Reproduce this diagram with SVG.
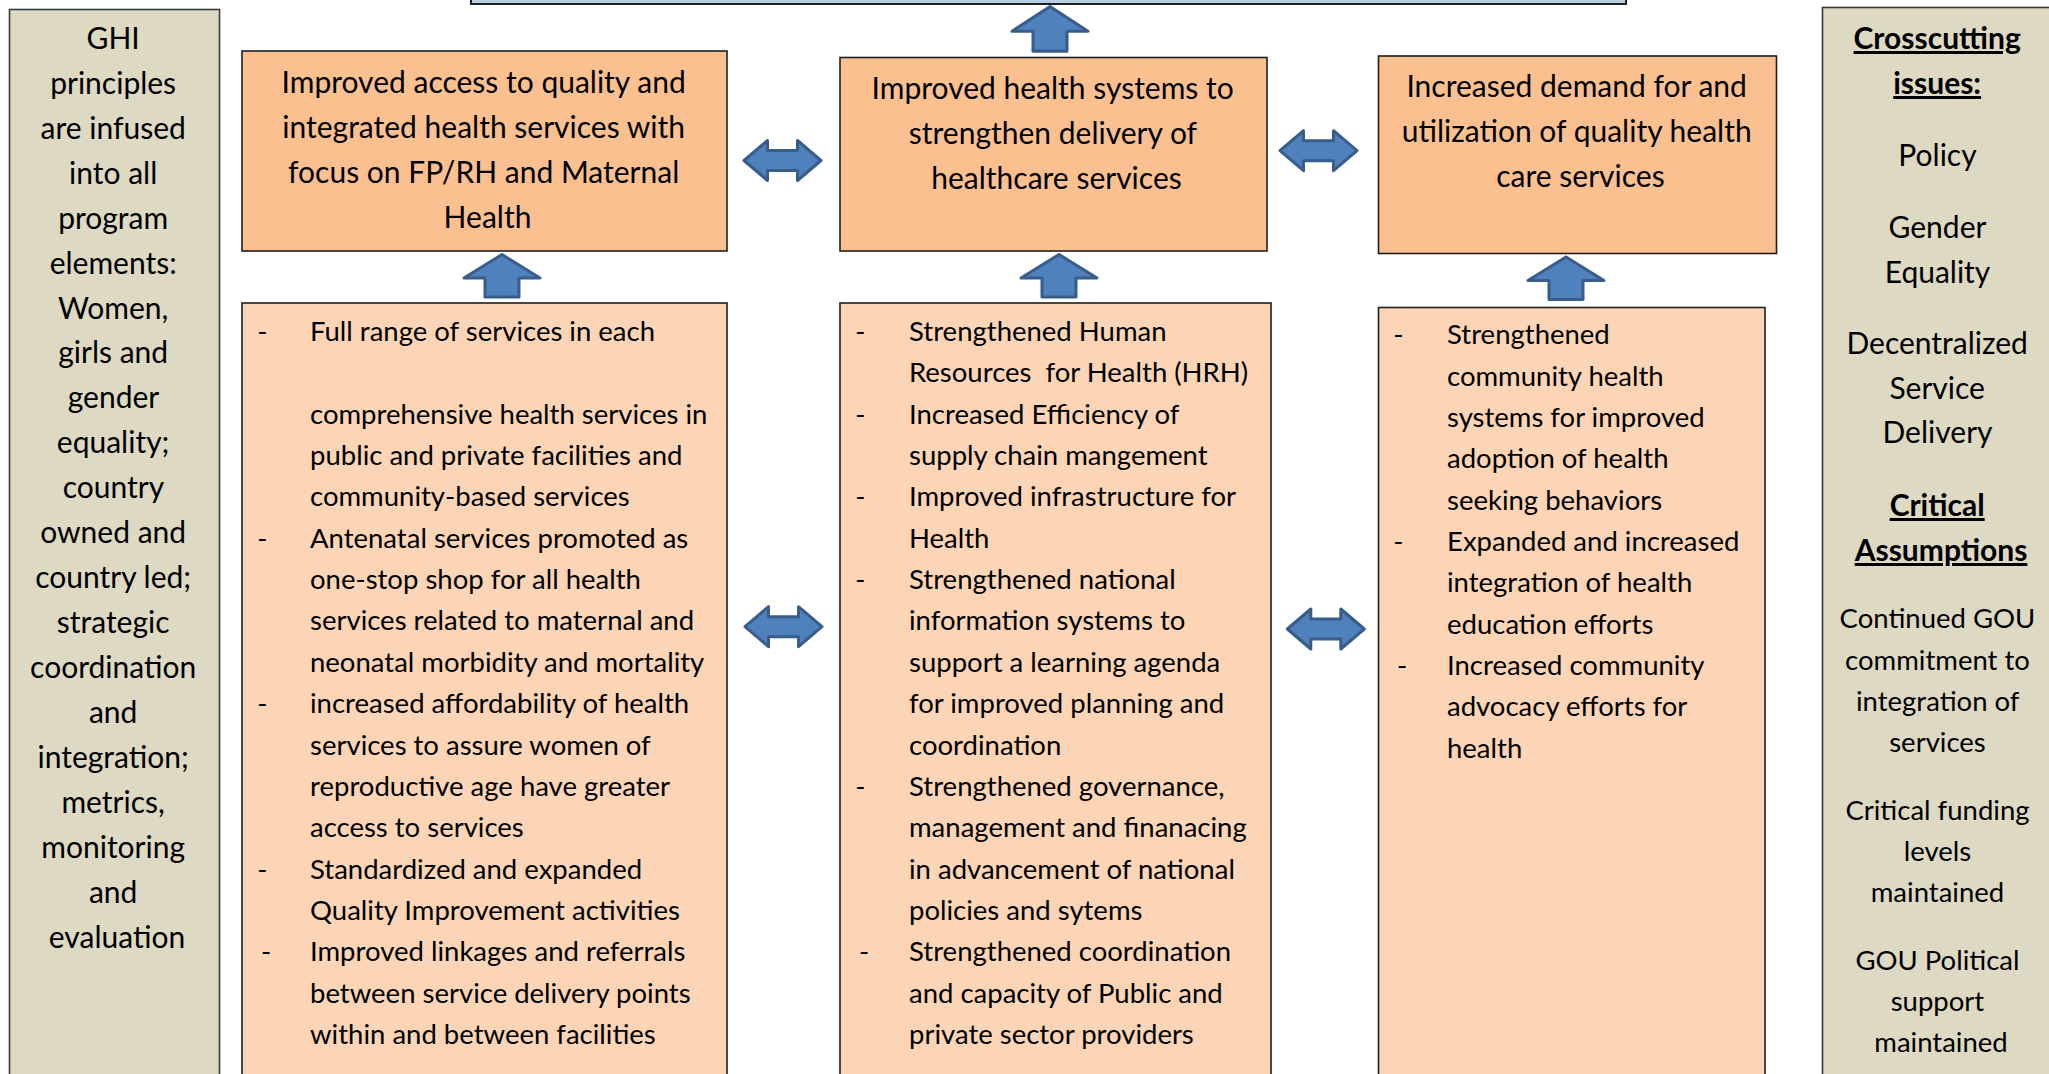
<svg xmlns="http://www.w3.org/2000/svg" width="2049" height="1074" viewBox="0 0 2049 1074">
<style>
.bg{fill:#ffffff}
.goal{fill:#B9CDE5;stroke:#1F1F1F;stroke-width:2}
.ir{fill:#FAC090;stroke:#1F1F1F;stroke-width:1.6}
.sub{fill:#FBD5B5;stroke:#1F1F1F;stroke-width:1.6}
.side{fill:#DDD9C3;stroke:#3A3A3A;stroke-width:1.6}
.arr{fill:#4F81BD;stroke:#385D8A;stroke-width:3;stroke-linejoin:round}
text{font-family:Lato,"Liberation Sans",sans-serif;fill:#000}
.t32{font-size:30px}
.t29{font-size:27.5px}
.c{text-anchor:middle}
.b{font-weight:bold;text-decoration:underline}
</style>
<defs>
<path id="dbl" d="M-38.5 0 L-15 -20 L-15 -10 L15 -10 L15 -20 L38.5 0 L15 20 L15 10 L-15 10 L-15 20 Z"/>
<path id="up" d="M0 1.5 L38 25 L17 25 L17 44 L-17 44 L-17 25 L-38 25 Z"/>
</defs>
<rect class="bg" x="0" y="0" width="2049" height="1074"/>

<g id="goal"><rect class="goal" x="471" y="-10" width="1155" height="14"/></g>

<g id="left-principles">
<rect class="side" x="9.5" y="9.5" width="210" height="1080"/>
<text class="t32 c" transform="translate(3,1)">
<tspan x="114" y="47.7">GHI</tspan>
<tspan x="114" y="92.7">principles</tspan>
<tspan x="114" y="137.6">are infused</tspan>
<tspan x="114" y="182.6">into all</tspan>
<tspan x="114" y="227.5">program</tspan>
<tspan x="114" y="272.5">elements:</tspan>
<tspan x="114" y="317.5">Women,</tspan>
<tspan x="114" y="362.4">girls and</tspan>
<tspan x="114" y="407.4">gender</tspan>
<tspan x="114" y="452.3">equality;</tspan>
<tspan x="114" y="497.3">country</tspan>
<tspan x="114" y="542.3">owned and</tspan>
<tspan x="114" y="587.2">country led;</tspan>
<tspan x="114" y="632.2">strategic</tspan>
<tspan x="114" y="677.1">coordination</tspan>
<tspan x="114" y="722.1">and</tspan>
<tspan x="114" y="767.1">integration;</tspan>
<tspan x="114" y="812">metrics,</tspan>
<tspan x="114" y="857">monitoring</tspan>
<tspan x="114" y="901.9">and</tspan>
<tspan x="114" y="946.9">evaluation</tspan>
</text>
</g>

<g id="ir1">
<rect class="ir" x="242" y="51" width="485" height="200"/>
<text class="t32 c" transform="translate(3,1)">
<tspan x="484.5" y="92">Improved access to quality and</tspan>
<tspan x="484.5" y="137">integrated health services with</tspan>
<tspan x="484.5" y="182">focus on FP/RH and Maternal</tspan>
<tspan x="484.5" y="227">Health</tspan>
</text>
</g>

<g id="ir2">
<rect class="ir" x="840" y="57.5" width="427" height="193.5"/>
<text class="t32 c" transform="translate(3,1)">
<tspan x="1053.5" y="98">Improved health systems to</tspan>
<tspan x="1053.5" y="143">strengthen delivery of</tspan>
<tspan x="1053.5" y="188">healthcare services</tspan>
</text>
</g>

<g id="ir3">
<rect class="ir" x="1378.5" y="56" width="398" height="197.5"/>
<text class="t32 c" transform="translate(3,1)">
<tspan x="1577.5" y="96">Increased demand for and</tspan>
<tspan x="1577.5" y="141">utilization of quality health</tspan>
<tspan x="1577.5" y="186">care services</tspan>
</text>
</g>

<g id="sub1">
<rect class="sub" x="242" y="303" width="485" height="790"/>
<text class="t29 c" transform="translate(0,1)">
<tspan x="266" y="340">-</tspan>
<tspan x="266" y="546.75">-</tspan>
<tspan x="266" y="712.15">-</tspan>
<tspan x="266" y="877.55">-</tspan>
<tspan x="266" y="960.25">-</tspan>
</text>
<text class="t29" transform="translate(0,1)">
<tspan x="310" y="340">Full range of services in each</tspan>
<tspan x="310" y="422.7">comprehensive health services in</tspan>
<tspan x="310" y="464.05">public and private facilities and</tspan>
<tspan x="310" y="505.4">community-based services</tspan>
<tspan x="310" y="546.75">Antenatal services promoted as</tspan>
<tspan x="310" y="588.1">one-stop shop for all health</tspan>
<tspan x="310" y="629.45">services related to maternal and</tspan>
<tspan x="310" y="670.8">neonatal morbidity and mortality</tspan>
<tspan x="310" y="712.15">increased affordability of health</tspan>
<tspan x="310" y="753.5">services to assure women of</tspan>
<tspan x="310" y="794.85">reproductive age have greater</tspan>
<tspan x="310" y="836.2">access to services</tspan>
<tspan x="310" y="877.55">Standardized and expanded</tspan>
<tspan x="310" y="918.9">Quality Improvement activities</tspan>
<tspan x="310" y="960.25">Improved linkages and referrals</tspan>
<tspan x="310" y="1001.6">between service delivery points</tspan>
<tspan x="310" y="1042.95">within and between facilities</tspan>
</text>
</g>

<g id="sub2">
<rect class="sub" x="840" y="303" width="431" height="790"/>
<text class="t29 c" transform="translate(0,1)">
<tspan x="864" y="340">-</tspan>
<tspan x="864" y="422.7">-</tspan>
<tspan x="864" y="505.4">-</tspan>
<tspan x="864" y="588.1">-</tspan>
<tspan x="864" y="794.85">-</tspan>
<tspan x="864" y="960.25">-</tspan>
</text>
<text class="t29" transform="translate(0,1)">
<tspan x="909" y="340">Strengthened Human</tspan>
<tspan x="909" y="381.35">Resources&#160; for Health (HRH)</tspan>
<tspan x="909" y="422.7">Increased Efficiency of</tspan>
<tspan x="909" y="464.05">supply chain mangement</tspan>
<tspan x="909" y="505.4">Improved infrastructure for</tspan>
<tspan x="909" y="546.75">Health</tspan>
<tspan x="909" y="588.1">Strengthened national</tspan>
<tspan x="909" y="629.45">information systems to</tspan>
<tspan x="909" y="670.8">support a learning agenda</tspan>
<tspan x="909" y="712.15">for improved planning and</tspan>
<tspan x="909" y="753.5">coordination</tspan>
<tspan x="909" y="794.85">Strengthened governance,</tspan>
<tspan x="909" y="836.2">management and finanacing</tspan>
<tspan x="909" y="877.55">in advancement of national</tspan>
<tspan x="909" y="918.9">policies and sytems</tspan>
<tspan x="909" y="960.25">Strengthened coordination</tspan>
<tspan x="909" y="1001.6">and capacity of Public and</tspan>
<tspan x="909" y="1042.95">private sector providers</tspan>
</text>
</g>

<g id="sub3">
<rect class="sub" x="1378.5" y="307.5" width="386.5" height="790"/>
<text class="t29 c" transform="translate(0,1)">
<tspan x="1402" y="343.3">-</tspan>
<tspan x="1402" y="550.05">-</tspan>
<tspan x="1402" y="674.1">-</tspan>
</text>
<text class="t29" transform="translate(0,1)">
<tspan x="1447" y="343.3">Strengthened</tspan>
<tspan x="1447" y="384.65">community health</tspan>
<tspan x="1447" y="426">systems for improved</tspan>
<tspan x="1447" y="467.35">adoption of health</tspan>
<tspan x="1447" y="508.7">seeking behaviors</tspan>
<tspan x="1447" y="550.05">Expanded and increased</tspan>
<tspan x="1447" y="591.4">integration of health</tspan>
<tspan x="1447" y="632.75">education efforts</tspan>
<tspan x="1447" y="674.1">Increased community</tspan>
<tspan x="1447" y="715.45">advocacy efforts for</tspan>
<tspan x="1447" y="756.8">health</tspan>
</text>
</g>

<g id="right-crosscutting">
<rect class="side" x="1822.5" y="7.5" width="250" height="1090"/>
<text class="t32 c" transform="translate(3,1)">
<tspan class="b" x="1938" y="48">Crosscutting</tspan>
<tspan class="b" x="1938" y="93">issues:</tspan>
<tspan x="1938" y="165">Policy</tspan>
<tspan x="1938" y="237">Gender</tspan>
<tspan x="1938" y="282">Equality</tspan>
<tspan x="1938" y="353">Decentralized</tspan>
<tspan x="1938" y="398">Service</tspan>
<tspan x="1938" y="442">Delivery</tspan>
<tspan class="b" x="1938" y="515">Critical</tspan>
<tspan class="b" x="1938" y="560">Assumptions</tspan>
</text>
<text class="t29 c" transform="translate(3,1)">
<tspan x="1938" y="627">Continued GOU</tspan>
<tspan x="1938" y="668.5">commitment to</tspan>
<tspan x="1938" y="710">integration of</tspan>
<tspan x="1938" y="751">services</tspan>
<tspan x="1938" y="818.5">Critical funding</tspan>
<tspan x="1938" y="860">levels</tspan>
<tspan x="1938" y="901">maintained</tspan>
<tspan x="1938" y="968.5">GOU Political</tspan>
<tspan x="1938" y="1010">support</tspan>
<tspan x="1938" y="1051">maintained</tspan>
</text>
</g>

<g id="connectors">
<use href="#up" class="arr" transform="translate(1050,5) scale(1,1.05)"/>
<use href="#up" class="arr" transform="translate(502,253)"/>
<use href="#up" class="arr" transform="translate(1059,253)"/>
<use href="#up" class="arr" transform="translate(1566,255.5)"/>
<use href="#dbl" class="arr" transform="translate(782.5,160.5)"/>
<use href="#dbl" class="arr" transform="translate(1318.5,150.7)"/>
<use href="#dbl" class="arr" transform="translate(783.5,626.7)"/>
<use href="#dbl" class="arr" transform="translate(1325.8,629)"/>
</g>
</svg>
